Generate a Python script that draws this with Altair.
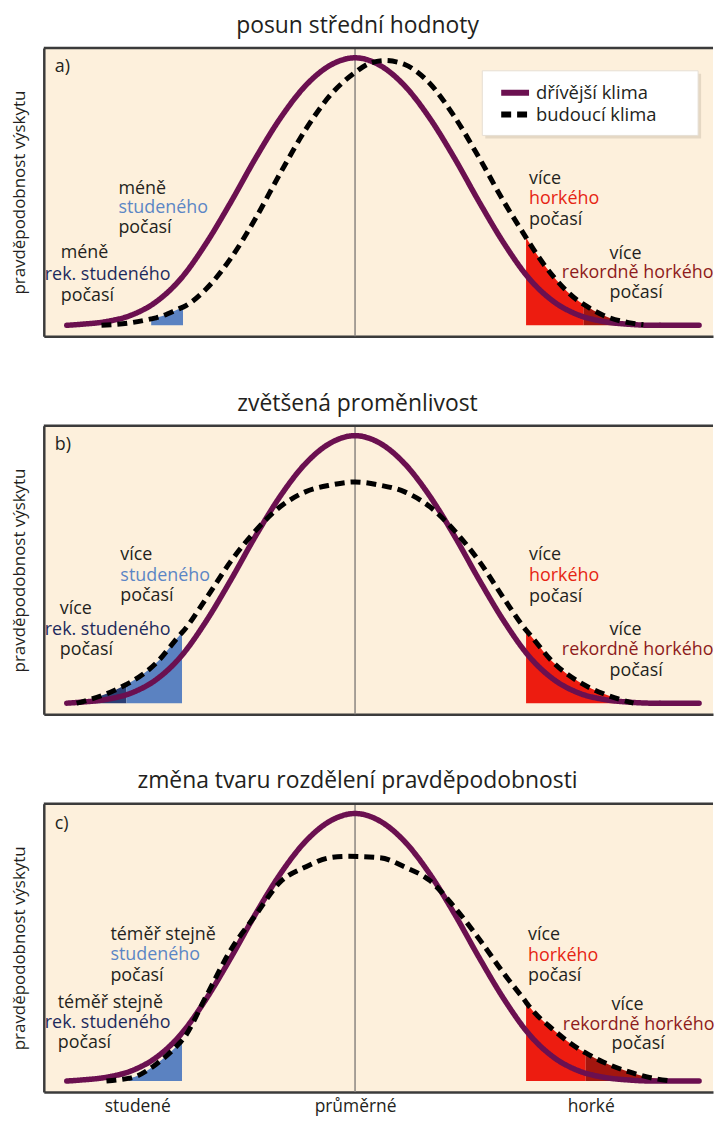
import altair as alt
import pandas as pd

FONT = "Open Sans"
INK = "#231f20"
PANEL_BG = "#fdf0dc"
FRAME = "#3b3b3b"

# x: temperature relative to the old mean (0 = "průměrné"), y: relative probability
X_DOMAIN = [-3.13, 3.60]
Y_DOMAIN = [-0.041, 1.037]
MEAN = 0.0
W, H = 673, 290

series_names = ["dřívější klima", "budoucí klima"]

# former climate (same curve in all three panels)
solid_x = [-2.9, -2.75, -2.5, -2.25, -2.0, -1.75, -1.5, -1.25, -1.0, -0.75, -0.5, -0.25, 0.0,
           0.25, 0.5, 0.75, 1.0, 1.25, 1.5, 1.75, 2.0, 2.25, 2.5, 2.75, 3.0, 3.46]
solid_y = [0.0, 0.004, 0.014, 0.038, 0.088, 0.175, 0.305, 0.46, 0.625, 0.775, 0.895, 0.972, 1.0,
           0.972, 0.895, 0.775, 0.625, 0.46, 0.305, 0.175, 0.088, 0.038, 0.014, 0.004, 0.0, 0.0]

# future climate, a) shifted mean
dashed_a_x = [-2.55, -2.25, -2.05, -2.0, -1.75, -1.73, -1.5, -1.25, -1.0, -0.75, -0.5, -0.25, 0.0,
              0.15, 0.3, 0.5, 0.75, 1.0, 1.25, 1.5, 1.72, 1.75, 2.0, 2.25, 2.3, 2.5, 2.75, 2.9]
dashed_a_y = [0.0, 0.01, 0.024, 0.028, 0.065, 0.068, 0.135, 0.25, 0.40, 0.57, 0.73, 0.86, 0.945,
              0.98, 0.99, 0.975, 0.905, 0.78, 0.625, 0.46, 0.328, 0.31, 0.18, 0.09, 0.078, 0.037, 0.01, 0.002]

# future climate, b) increased variance
dashed_b_x = [-2.8, -2.72, -2.5, -2.3, -2.25, -2.0, -1.75, -1.74, -1.5, -1.25, -1.0, -0.75, -0.5, -0.25,
              0.0, 0.25, 0.5, 0.75, 1.0, 1.25, 1.5, 1.72, 1.75, 2.0, 2.25, 2.5, 2.8]
dashed_b_y = [0.0, 0.008, 0.035, 0.07, 0.08, 0.15, 0.26, 0.264, 0.39, 0.53, 0.645, 0.735, 0.79, 0.815,
              0.827, 0.815, 0.79, 0.735, 0.645, 0.53, 0.39, 0.273, 0.26, 0.15, 0.08, 0.035, 0.0]

# future climate, c) changed shape (skewed)
dashed_c_x = [-2.5, -2.28, -2.25, -2.0, -1.75, -1.74, -1.5, -1.25, -1.0, -0.75, -0.5, -0.25, -0.08,
              0.25, 0.5, 0.75, 1.0, 1.25, 1.5, 1.72, 1.75, 2.0, 2.25, 2.32, 2.5, 2.75, 3.0, 3.2]
dashed_c_y = [0.0, 0.010, 0.012, 0.063, 0.148, 0.152, 0.315, 0.49, 0.62, 0.745, 0.80, 0.835, 0.84,
              0.835, 0.80, 0.75, 0.65, 0.53, 0.40, 0.295, 0.28, 0.19, 0.12, 0.105, 0.07, 0.035, 0.01, 0.0]

# shaded tails under the future-climate curve
zone_kind_a = ["cold", "hot", "recordhot"]
zone_from_a = [-2.05, 1.72, 2.3]
zone_to_a = [-1.73, 2.3, 2.9]

zone_kind_b = ["recordcold", "cold", "hot"]
zone_from_b = [-2.72, -2.3, 1.72]
zone_to_b = [-2.3, -1.74, 2.8]

zone_kind_c = ["cold", "hot", "recordhot"]
zone_from_c = [-2.28, 1.72, 2.32]
zone_to_c = [-1.74, 2.32, 3.2]

kinds = ["plain", "cold", "recordcold", "hot", "recordhot"]
text_colors = [INK, "#5b86c5", "#1d2a5c", "#e62412", "#8e1b1b"]
zone_kinds = ["cold", "recordcold", "hot", "recordhot"]
zone_colors = ["#5b82c1", "#2b3f75", "#ed1c10", "#a3160f"]

# annotation texts
text_a = ["a)", "méně", "studeného", "počasí", "méně", "rek. studeného", "počasí",
          "více", "horkého", "počasí", "více", "rekordně horkého", "počasí"]
tx_a = [-3.02, -2.38, -2.38, -2.38, -2.96, -3.12, -2.96, 1.75, 1.75, 1.75, 2.56, 2.08, 2.56]
ty_a = [0.965, 0.510, 0.437, 0.363, 0.270, 0.188, 0.111, 0.546, 0.472, 0.395, 0.266, 0.196, 0.122]
tk_a = ["plain", "plain", "cold", "plain", "plain", "recordcold", "plain",
        "plain", "hot", "plain", "plain", "recordhot", "plain"]

text_b = ["b)", "více", "studeného", "počasí", "více", "rek. studeného", "počasí",
          "více", "horkého", "počasí", "více", "rekordně horkého", "počasí"]
tx_b = [-3.02, -2.36, -2.36, -2.36, -2.97, -3.12, -2.97, 1.75, 1.75, 1.75, 2.56, 2.08, 2.56]
ty_b = [0.965, 0.555, 0.477, 0.401, 0.353, 0.273, 0.199, 0.552, 0.475, 0.397, 0.272, 0.198, 0.120]
tk_b = tk_a

text_c = ["c)", "téměř stejně", "studeného", "počasí", "téměř stejně", "rek. studeného", "počasí",
          "více", "horkého", "počasí", "více", "rekordně horkého", "počasí"]
tx_c = [-3.02, -2.46, -2.46, -2.46, -2.99, -3.12, -2.99, 1.74, 1.74, 1.74, 2.58, 2.09, 2.58]
ty_c = [0.96, 0.547, 0.472, 0.393, 0.290, 0.216, 0.141, 0.545, 0.469, 0.392, 0.286, 0.211, 0.137]
tk_c = tk_a

titles = ["posun střední hodnoty", "zvětšená proměnlivost", "změna tvaru rozdělení pravděpodobnosti"]

cat_x = [-2.19, 0.0, 2.37]
cat_names = ["studené", "průměrné", "horké"]


def zones_df(dx, dy, kinds_, starts, ends):
    d = pd.DataFrame({"x": dx, "y": dy})
    parts = []
    for k, s, e in zip(kinds_, starts, ends):
        p = d[(d.x >= s - 1e-9) & (d.x <= e + 1e-9)].copy()
        p["zone"] = k
        parts.append(p)
    return pd.concat(parts, ignore_index=True)


xs = alt.Scale(domain=X_DOMAIN, nice=False, zero=False)
ys = alt.Scale(domain=Y_DOMAIN, nice=False, zero=False)
stroke_scale = alt.Scale(domain=series_names, range=["#6b1050", "#000000"])
dash_scale = alt.Scale(domain=series_names, range=[[1, 0], [10, 6]])


def x_axis(show_labels):
    if show_labels:
        expr = " : ".join(f"datum.value == {v} ? '{t}'" for v, t in zip(cat_x, cat_names)) + " : ''"
        return alt.Axis(values=cat_x, labelExpr=expr, ticks=False, grid=False, domain=True,
                        domainColor=FRAME, domainWidth=2.5, labelFont=FONT, labelFontSize=17.5,
                        labelColor=INK, labelPadding=6, title=None, labelOverlap=False,
                        labelFlush=False)
    return alt.Axis(labels=False, ticks=False, grid=False, domain=True,
                    domainColor=FRAME, domainWidth=2.5, title=None)


def y_axis():
    return alt.Axis(title="pravděpodobnost výskytu", titleFont=FONT, titleFontSize=17,
                    titleFontWeight="normal", titleColor=INK, titlePadding=15,
                    labels=False, ticks=False, grid=False, domain=True,
                    domainColor=FRAME, domainWidth=2.5)


def legend_layers():
    """Legend box drawn inside panel a (white box with a soft shadow)."""
    one = pd.DataFrame({"k": [0]})
    shadow = alt.Chart(one).mark_rect(color="#b8ab97", opacity=0.35).encode(
        x=alt.value(444), x2=alt.value(661), y=alt.value(26), y2=alt.value(91))
    box = alt.Chart(one).mark_rect(fill="white", stroke="#e6dfd4", strokeWidth=1).encode(
        x=alt.value(441), x2=alt.value(658), y=alt.value(23), y2=alt.value(88))
    out = [shadow, box]
    for i, name in enumerate(series_names):
        row = pd.DataFrame({"series": [name]})
        out.append(alt.Chart(row).mark_rule(strokeWidth=6, strokeCap="butt").encode(
            x=alt.value(460), x2=alt.value(488), y=alt.value(45 + 22 * i),
            stroke=alt.Stroke("series:N", scale=stroke_scale, legend=None),
            strokeDash=alt.StrokeDash("series:N", scale=dash_scale, legend=None)))
        out.append(alt.Chart(row).mark_text(align="left", baseline="middle", font=FONT,
                                            fontSize=18.5, color=INK).encode(
            x=alt.value(495), y=alt.value(45 + 22 * i), text="series:N"))
    return out


def panel(title, dx, dy, zk, zf, zt, tt, tx, ty, tk, legend, show_x_labels):
    solid_df = pd.DataFrame({"x": solid_x, "y": solid_y, "series": series_names[0]})
    dashed_df = pd.DataFrame({"x": dx, "y": dy, "series": series_names[1]})
    area_df = zones_df(dx, dy, zk, zf, zt)
    text_df = pd.DataFrame({"x": tx, "y": ty, "t": tt, "kind": tk})

    X = lambda: alt.X("x:Q", scale=xs, axis=x_axis(show_x_labels))
    Y = lambda: alt.Y("y:Q", scale=ys, axis=y_axis())

    center = alt.Chart(pd.DataFrame({"x": [MEAN]})).mark_rule(
        color="#8a8580", strokeWidth=1.5).encode(x=X())
    top = alt.Chart(pd.DataFrame({"y": [Y_DOMAIN[1]]})).mark_rule(
        color=FRAME, strokeWidth=2.5).encode(y=Y())
    areas = alt.Chart(area_df).mark_area(interpolate="monotone").encode(
        x=X(), y=Y(), y2=alt.datum(0),
        fill=alt.Fill("zone:N", scale=alt.Scale(domain=zone_kinds, range=zone_colors), legend=None),
    )
    solid = alt.Chart(solid_df).mark_line(strokeWidth=5.5, strokeCap="round",
                                          interpolate="monotone").encode(
        x=X(), y=Y(),
        stroke=alt.Stroke("series:N", scale=stroke_scale, legend=None),
        strokeDash=alt.StrokeDash("series:N", scale=dash_scale, legend=None),
    )
    dashed = alt.Chart(dashed_df).mark_line(strokeWidth=5, strokeCap="butt",
                                            interpolate="monotone").encode(
        x=X(), y=Y(),
        stroke=alt.Stroke("series:N", scale=stroke_scale, legend=None),
        strokeDash=alt.StrokeDash("series:N", scale=dash_scale, legend=None),
    )
    labels = alt.Chart(text_df).mark_text(align="left", baseline="middle", font=FONT,
                                          fontSize=18).encode(
        x=X(), y=Y(),
        text="t:N",
        color=alt.Color("kind:N", scale=alt.Scale(domain=kinds, range=text_colors), legend=None),
    )
    layers = [center, top, areas, solid, dashed, labels]
    if legend:
        layers += legend_layers()
    return alt.layer(*layers).properties(
        width=W, height=H,
        title=alt.TitleParams(title, font=FONT, fontSize=23, fontWeight="normal", color=INK,
                              anchor="middle", dx=-21, offset=9),
    )


pa = panel(titles[0], dashed_a_x, dashed_a_y, zone_kind_a, zone_from_a, zone_to_a,
           text_a, tx_a, ty_a, tk_a, True, False)
pb = panel(titles[1], dashed_b_x, dashed_b_y, zone_kind_b, zone_from_b, zone_to_b,
           text_b, tx_b, ty_b, tk_b, False, False)
pc = panel(titles[2], dashed_c_x, dashed_c_y, zone_kind_c, zone_from_c, zone_to_c,
           text_c, tx_c, ty_c, tk_c, False, True)

chart = alt.vconcat(pa, pb, pc, spacing=55).properties(
    padding={"left": 3, "top": 3, "right": 0, "bottom": 0},
    background="white",
).configure_view(fill=PANEL_BG, stroke=None)

chart.save("out.html", embed_options={"renderer": "svg", "actions": False})
